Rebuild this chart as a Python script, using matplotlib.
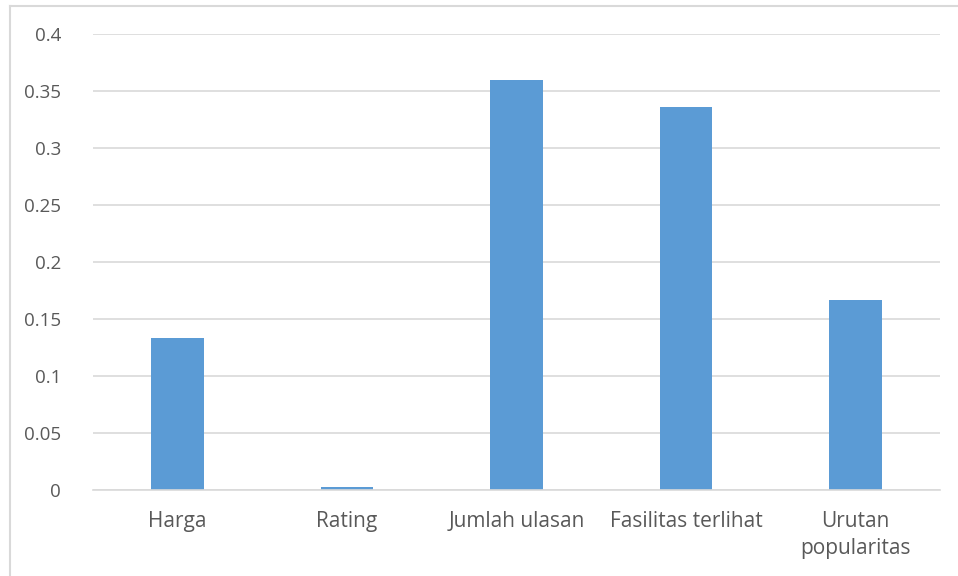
import matplotlib.pyplot as plt
from matplotlib.lines import Line2D

categories = ['Harga', 'Rating', 'Jumlah ulasan', 'Fasilitas terlihat', 'Urutan\npopularitas']
values = [0.133, 0.003, 0.360, 0.336, 0.167]
yticks = [0, 0.05, 0.1, 0.15, 0.2, 0.25, 0.3, 0.35, 0.4]
ytick_labels = ['0', '0.05', '0.1', '0.15', '0.2', '0.25', '0.3', '0.35', '0.4']

plt.rcParams['font.family'] = ['Open Sans', 'DejaVu Sans']

W, H = 958, 576
fig = plt.figure(figsize=(W / 100, H / 100), dpi=100)
ax = fig.add_axes([93 / W, 1 - 490 / H, (940 - 93) / W, (490 - 34) / H])

x = range(len(categories))
ax.bar(x, values, width=0.31, color='#5B9BD5', zorder=3)

ax.set_ylim(0, 0.4)
ax.set_xlim(-0.5, len(categories) - 0.5)
ax.set_yticks(yticks)
ax.set_yticklabels(ytick_labels)
ax.set_xticks(list(x))
ax.set_xticklabels(categories, linespacing=1.4)
ax.yaxis.grid(True, color='#D9D9D9', linewidth=1.2, zorder=0)
ax.tick_params(axis='both', length=0, labelcolor='#595959')
ax.tick_params(axis='y', pad=23, labelsize=13.5)
ax.tick_params(axis='x', pad=15, labelsize=15)
for s in ['top', 'right', 'left']:
    ax.spines[s].set_visible(False)
ax.spines['bottom'].set_color('#D9D9D9')
ax.spines['bottom'].set_linewidth(1.2)
ax.spines['bottom'].set_zorder(4)

# chart frame
fig.add_artist(Line2D([9.5 / W, 9.5 / W], [0, 1 - 5.5 / H], color='#D9D9D9', lw=1.5))
fig.add_artist(Line2D([9.5 / W, 1], [1 - 5.5 / H, 1 - 5.5 / H], color='#D9D9D9', lw=1.5))

fig.savefig('out.png', dpi=100)
